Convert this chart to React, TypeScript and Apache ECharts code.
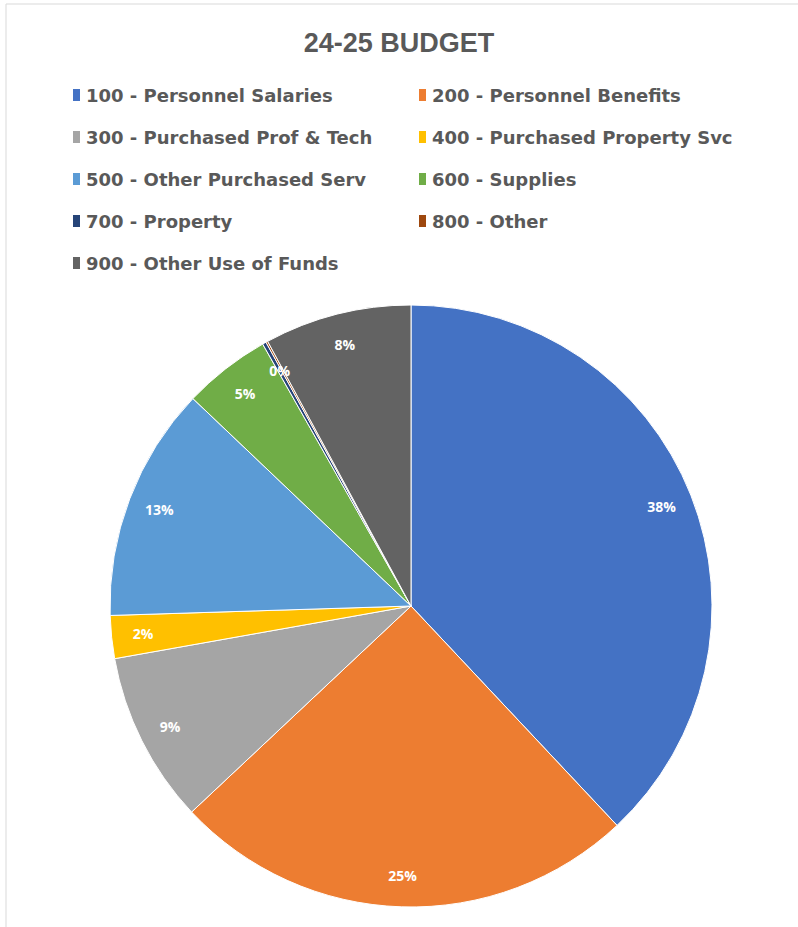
import React, { useEffect, useRef } from "react";
import * as echarts from "echarts";

const categories = [
  "100 - Personnel Salaries",
  "200 - Personnel Benefits",
  "300 - Purchased Prof & Tech",
  "400 - Purchased Property Svc",
  "500 - Other Purchased Serv",
  "600 - Supplies",
  "700 - Property",
  "800 - Other",
  "900 - Other Use of Funds",
];
const shares = [38.0, 25.0, 9.2, 2.3, 12.6, 4.7, 0.2, 0.1, 7.9];
const colors = [
  "#4472C4",
  "#ED7D31",
  "#A5A5A5",
  "#FFC000",
  "#5B9BD5",
  "#70AD47",
  "#264478",
  "#9E480E",
  "#636363",
];
const titleText = "24-25 BUDGET";

export default function App() {
  const ref = useRef<HTMLDivElement>(null);
  useEffect(() => {
    if (!ref.current) return;
    const chart = echarts.init(ref.current, null, { renderer: "svg" });
    const data = categories.map((name, i) => ({
      name,
      value: shares[i],
      itemStyle: { color: colors[i] },
    }));
    const legendText = {
      fontFamily: "DejaVu Sans, sans-serif",
      fontWeight: "bold" as const,
      fontSize: 18,
      color: "#595959",
    };
    const legendBase = {
      orient: "vertical" as const,
      top: 81,
      itemGap: 24,
      itemWidth: 9,
      itemHeight: 14,
      icon: "rect",
      textStyle: legendText,
      selectedMode: false,
    };
    chart.setOption({
      animation: false,
      backgroundColor: "#ffffff",
      title: {
        text: titleText,
        left: "center",
        top: 24,
        textStyle: {
          fontFamily: "Liberation Sans, Arial, sans-serif",
          fontWeight: "bold",
          fontSize: 27,
          color: "#595959",
        },
      },
      legend: [
        {
          ...legendBase,
          data: categories.filter((_, i) => i % 2 === 0),
          left: 66,
        },
        {
          ...legendBase,
          data: categories.filter((_, i) => i % 2 === 1),
          left: 412,
        },
      ],
      graphic: [
        {
          type: "rect",
          shape: { x: 6, y: 4, width: 800, height: 930 },
          style: { fill: "none", stroke: "#d9d9d9", lineWidth: 1 },
          silent: true,
        },
      ],
      series: [
        {
          type: "pie",
          center: [411, 606],
          radius: [0, 301],
          startAngle: 90,
          clockwise: true,
          data,
          label: { show: false },
          labelLine: { show: false },
          itemStyle: { borderColor: "#ffffff", borderWidth: 1 },
          emphasis: { disabled: true },
        },
        {
          type: "pie",
          center: [411, 606],
          radius: [232, 301],
          startAngle: 90,
          clockwise: true,
          silent: true,
          data: categories.map((name, i) => ({
            name,
            value: shares[i],
            itemStyle: { color: "rgba(0,0,0,0)" },
          })),
          label: {
            show: true,
            position: "inside",
            formatter: (p: any) =>
              p.name.startsWith("800") ? "" : Math.round(p.percent) + "%",
            color: "#ffffff",
            fontFamily: "Open Sans, Liberation Sans, sans-serif",
            fontWeight: "bold",
            fontSize: 14,
          },
          labelLine: { show: false },
          emphasis: { disabled: true },
        },
      ],
    });
    return () => chart.dispose();
  }, []);
  return (
    <div
      ref={ref}
      style={{ position: "fixed", left: 0, top: 0, width: 798, height: 927 }}
    />
  );
}
